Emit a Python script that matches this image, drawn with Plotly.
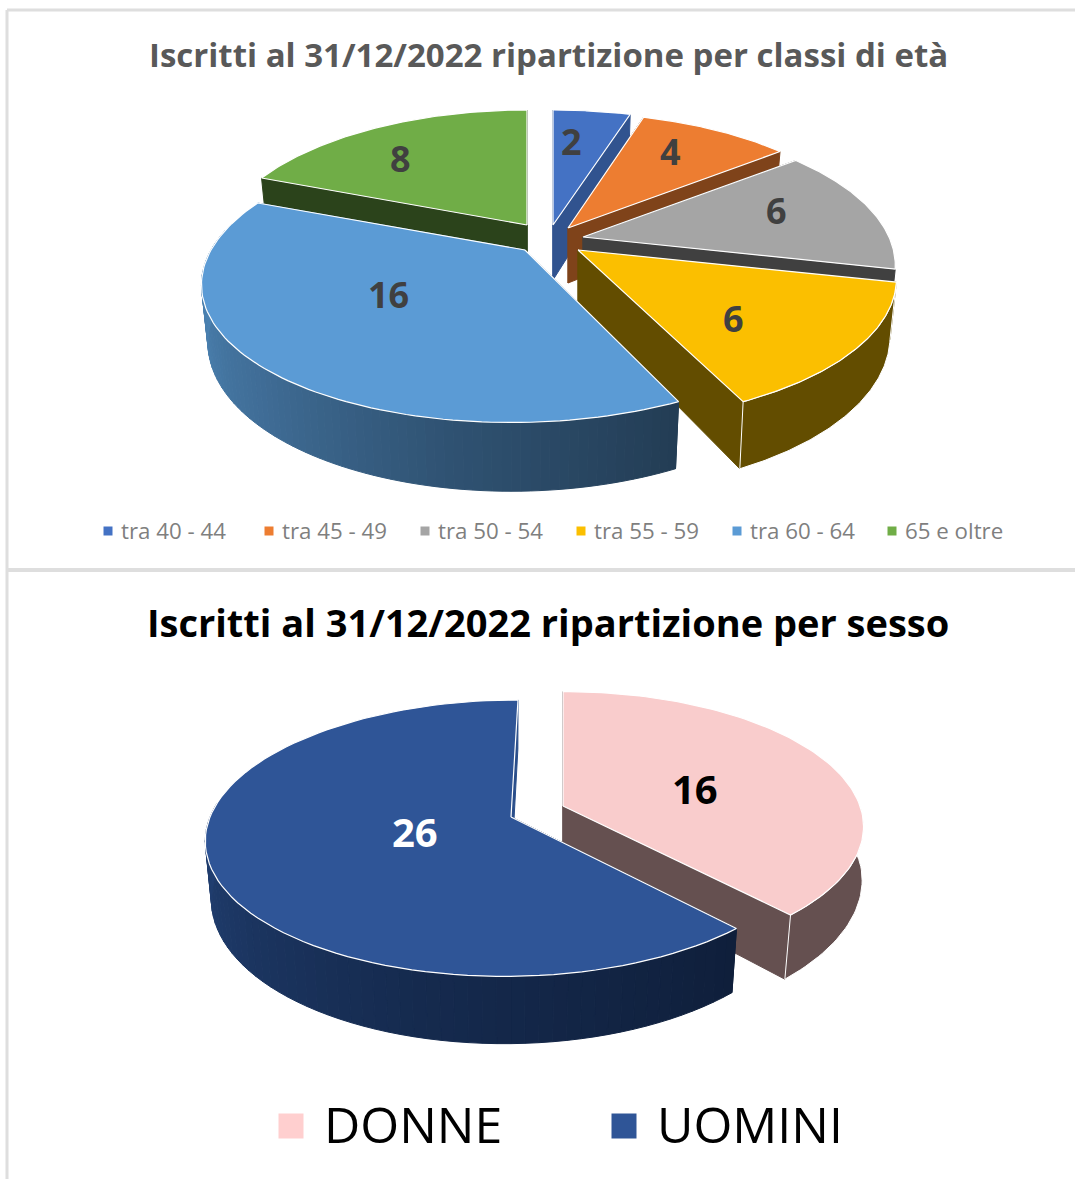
import math
import plotly.graph_objects as go

# ---- data ----
age_labels = ["tra 40 - 44", "tra 45 - 49", "tra 50 - 54", "tra 55 - 59", "tra 60 - 64", "65 e oltre"]
age_values = [2, 4, 6, 6, 16, 8]
sex_labels = ["DONNE", "UOMINI"]
sex_values = [16, 26]
title_age = "Iscritti al 31/12/2022 ripartizione per classi di età"
title_sex = "Iscritti al 31/12/2022 ripartizione per sesso"

# ---- styles ----
age_top = ["#4472C4", "#ED7D31", "#A5A5A5", "#FBBF00", "#5B9BD5", "#70AD47"]
age_side = ["#31538F", "#7F431A", "#404040", "#634D00", None, "#2B431B"]
age_apex = [(553, 225), (568, 228), (583, 237), (578, 250), (525, 250), (527, 225)]
age_R = [312, 305, 306, 312, 314, 306]
age_lean = [0, 0, 0, 0, 14, 0]
age_wall = [True, True, False, True, True, True]
age_label_pos = [(571, 141), (670, 151), (776, 210), (733, 318), (388, 294), (400, 158)]
age_legend_x = [108, 269, 425, 581, 737, 892]
age_order = [0, 1, 5, 2, 3, 4]

sex_top = ["#F9CCCC", "#2F5597"]
sex_side = ["#655050", None]
sex_apex = [(563, 806), (511, 817)]
sex_R = [297, 301]
sex_Ry = [132, 135]
sex_lean = [0, 7]
sex_front_taper = [True, False]
sex_label_pos = [(695, 788), (415, 831)]
sex_label_col = ["#000000", "#FFFFFF"]
sex_legend_x = [291, 624]

fig = go.Figure()


def hex2rgb(c):
    return [int(c[i:i + 2], 16) for i in (1, 3, 5)]


def lerp_stops(stops, t):
    t = max(0, min(1, t))
    n = len(stops) - 1
    i = min(int(t * n), n - 1)
    f = t * n - i
    a, b = hex2rgb(stops[i]), hex2rgb(stops[i + 1])
    return "rgb(%d,%d,%d)" % tuple(round(a[k] + (b[k] - a[k]) * f) for k in range(3))


def poly(xs, ys, fill, line=None, width=1):
    fig.add_trace(go.Scatter(
        x=xs + xs[:1], y=ys + ys[:1], mode="lines", fill="toself", fillcolor=fill,
        line=dict(color=line or fill, width=width), hoverinfo="skip", showlegend=False))


def draw_slice(a0, a1, apex, R, Ry, k, h, top, side, grad=None, lean=0, edge="#FFFFFF", n=96,
               wall=True, front_taper=False):
    cx, cy = apex

    def pt(theta):
        x, z = math.sin(theta), math.cos(theta)
        s = 1 / (1 + k * z)
        return cx + R * x * s + lean * z, cy - Ry * z * s, s, z

    def low(p):
        f = 1 - 0.034 * max(-p[3], 0) if front_taper else 0.98
        return cx + (p[0] - cx) * f, p[1] + h * p[2]

    thetas = [a0 + (a1 - a0) * i / n for i in range(n + 1)]
    rim = [pt(t) for t in thetas]
    lows = [low(p) for p in rim]
    bx, by = cx, cy + h
    # radial faces
    side_r0 = side or grad[0]
    side_r1 = side or grad[-1]
    poly([cx, rim[0][0], lows[0][0], bx], [cy, rim[0][1], lows[0][1], by], side_r0, side_r0)
    poly([cx, rim[-1][0], lows[-1][0], bx], [cy, rim[-1][1], lows[-1][1], by], side_r1, side_r1)
    # outer wall: only the part that faces the viewer
    idx = [i for i in range(n + 1) if math.cos(thetas[i]) < 0.15] if wall else []
    if grad:
        for i in idx[:-1]:
            c = lerp_stops(grad, i / (n - 1))
            poly([rim[i][0], rim[i + 1][0], lows[i + 1][0], lows[i][0]],
                 [rim[i][1], rim[i + 1][1], lows[i + 1][1], lows[i][1]], c, c, 1)
    elif len(idx) > 1:
        poly([rim[i][0] for i in idx] + [lows[i][0] for i in reversed(idx)],
             [rim[i][1] for i in idx] + [lows[i][1] for i in reversed(idx)], side, edge, 1)
    # top
    poly([cx] + [p[0] for p in rim], [cy] + [p[1] for p in rim], top, edge, 1.2)


def angles(values):
    tot = sum(values)
    out, c = [], 0
    for v in values:
        out.append((c / tot * 2 * math.pi, (c + v) / tot * 2 * math.pi))
        c += v
    return out


# ---- chart 1 ----
ang = angles(age_values)
blue_grad = ["#233D55", "#2F5272", "#3F6C95", "#4A80AF", "#4F8BC0"]
for i in age_order:
    draw_slice(ang[i][0], ang[i][1], age_apex[i], age_R[i], 138, 0.2, 55, age_top[i], age_side[i],
               grad=blue_grad if age_side[i] is None else None, lean=age_lean[i], wall=age_wall[i])

# ---- chart 2 ----
ang2 = angles(sex_values)
navy_grad = ["#0F1F3B", "#152A4E", "#1E3A69", "#26487F", "#2A4E8A"]
for i in [0, 1]:
    draw_slice(ang2[i][0], ang2[i][1], sex_apex[i], sex_R[i], sex_Ry[i], 0.153, 57, sex_top[i], sex_side[i],
               grad=navy_grad if sex_side[i] is None else None, lean=sex_lean[i],
               front_taper=sex_front_taper[i])

# ---- legends (markers) ----
fig.add_trace(go.Scatter(x=age_legend_x, y=[531] * 6, mode="markers",
                         marker=dict(symbol="square", size=9, color=age_top, line=dict(width=0)),
                         hoverinfo="skip", showlegend=False))
fig.add_trace(go.Scatter(x=sex_legend_x, y=[1126] * 2, mode="markers",
                         marker=dict(symbol="square", size=25, color=["#FFCFCF", sex_top[1]], line=dict(width=0)),
                         hoverinfo="skip", showlegend=False))

ann = []
FONT = "Open Sans"


def text(x, y, s, size, color, bold=False, anchor="center"):
    if bold:
        s = "<b>" + s + "</b>"
    ann.append(dict(x=x, y=y, xref="x", yref="y", text=s, showarrow=False, xanchor=anchor, yanchor="middle",
                    font=dict(family=FONT, size=size, color=color)))


text(548, 54, title_age, 33, "#595959", True)
text(548, 622, title_sex, 38, "#000000", True)
for v, (x, y) in zip(age_values, age_label_pos):
    text(x, y, str(v), 36, "#404040", True)
for v, (x, y), c in zip(sex_values, sex_label_pos, sex_label_col):
    text(x, y, str(v), 40, c, True)
for lab, x in zip(age_labels, age_legend_x):
    text(x + 11, 530, lab, 22.3, "#7F7F7F", False, "left")
for lab, x in zip(sex_labels, sex_legend_x):
    text(x + 31, 1124, lab, 50, "#000000", False, "left")

frame = "#DEDEDE"
shapes = [
    dict(type="line", xref="x", yref="y", x0=7, x1=7, y0=10, y1=1179, line=dict(color=frame, width=3)),
    dict(type="line", xref="x", yref="y", x0=7, x1=1075, y0=10, y1=10, line=dict(color=frame, width=3)),
    dict(type="line", xref="x", yref="y", x0=7, x1=1075, y0=570, y1=570, line=dict(color=frame, width=4)),
]

fig.update_layout(
    width=1075, height=1179, margin=dict(l=0, r=0, t=0, b=0),
    paper_bgcolor="white", plot_bgcolor="white", showlegend=False,
    xaxis=dict(range=[0, 1075], visible=False, fixedrange=True),
    yaxis=dict(range=[1179, 0], visible=False, fixedrange=True),
    annotations=ann, shapes=shapes,
)
fig.write_html("out.html", config=dict(displayModeBar=False),
               post_script="document.body.style.margin='0';document.body.style.overflow='hidden';")
